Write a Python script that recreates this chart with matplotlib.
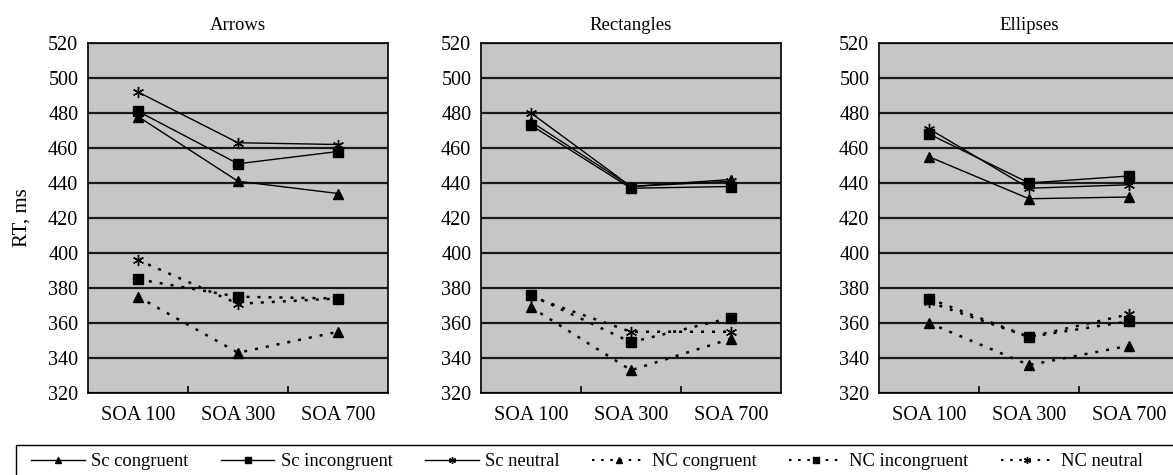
import matplotlib
matplotlib.use("Agg")
import matplotlib.pyplot as plt
from matplotlib.patches import Rectangle
from matplotlib.lines import Line2D

plt.rcParams['font.family'] = ['Liberation Serif', 'DejaVu Serif']

categories = ['SOA 100', 'SOA 300', 'SOA 700']
panels = ['Arrows', 'Rectangles', 'Ellipses']
series_names = ['Sc congruent', 'Sc incongruent', 'Sc neutral',
                'NC congruent', 'NC incongruent', 'NC neutral']

# RT values (ms), one list per series, per panel
arrows = [[478, 441, 434],
          [481, 451, 458],
          [492, 463, 462],
          [375, 343, 355],
          [385, 375, 374],
          [396, 371, 374]]
rectangles = [[475, 438, 442],
              [473, 437, 438],
              [480, 438, 441],
              [369, 333, 351],
              [376, 349, 363],
              [375, 355, 355]]
ellipses = [[455, 431, 432],
            [468, 440, 444],
            [471, 437, 439],
            [360, 336, 347],
            [374, 352, 361],
            [372, 352, 365]]
panel_data = [arrows, rectangles, ellipses]

markers = ['^', 's', (6, 2, 0), '^', 's', (6, 2, 0)]
dotted = (0, (1.2, 3.2))
styles = ['-', '-', '-', dotted, dotted, dotted]

fig = plt.figure(figsize=(11.73, 4.75), dpi=100)
lefts = [88 / 1173, 481 / 1173, 879 / 1173]
width = 300 / 1173
bottom = 1 - 393 / 475
height = 350 / 475

for k, (title, data) in enumerate(zip(panels, panel_data)):
    ax = fig.add_axes([lefts[k], bottom, width, height])
    ax.set_facecolor('#c6c6c6')
    x = range(len(categories))
    for i, vals in enumerate(data):
        ax.plot(x, vals, color='black', linestyle=styles[i],
                lw=1.0 if i < 3 else 1.8, marker=markers[i],
                markersize=7.5 if markers[i] != (6, 2, 0) else 8,
                markeredgewidth=1.0, zorder=3)
    ax.set_xlim(-0.5, 2.5)
    ax.set_ylim(320, 520)
    ax.set_yticks(range(320, 521, 20))
    ax.set_xticks(list(x))
    ax.set_xticklabels(categories)
    ax.set_xticks([0.5, 1.5], minor=True)
    ax.tick_params(axis='x', which='major', length=0, labelsize=14.5, pad=9)
    ax.tick_params(axis='x', which='minor', length=5, direction='in', width=1.2)
    ax.tick_params(axis='y', length=0, labelsize=14.5, pad=7)
    ax.grid(axis='y', color='#1a1a1a', lw=1.6, zorder=1)
    ax.set_axisbelow(True)
    for s in ax.spines.values():
        s.set_linewidth(1.2)
    ax.set_title(title, fontsize=13.5, pad=9)
    if k == 0:
        ax.set_ylabel('RT, ms', fontsize=15, labelpad=12)

# legend box running off the right edge
fig.add_artist(Rectangle((16 / 1173, -0.05), 1.0, 1 - 445 / 475 + 0.05,
                         transform=fig.transFigure, fill=False,
                         edgecolor='black', lw=1.0))
handles = [Line2D([0], [0], color='black', linestyle=styles[i],
                  lw=1.0 if i < 3 else 1.5, marker=markers[i], markersize=5)
           for i in range(6)]
fig.legend(handles, series_names, loc='center left', ncol=6, frameon=False,
           bbox_to_anchor=(31 / 1173, 1 - 462 / 475), fontsize=13.3,
           handlelength=2.9, handletextpad=0.35, columnspacing=1.75,
           borderaxespad=0, borderpad=0)

fig.savefig('out.png', dpi=100)
